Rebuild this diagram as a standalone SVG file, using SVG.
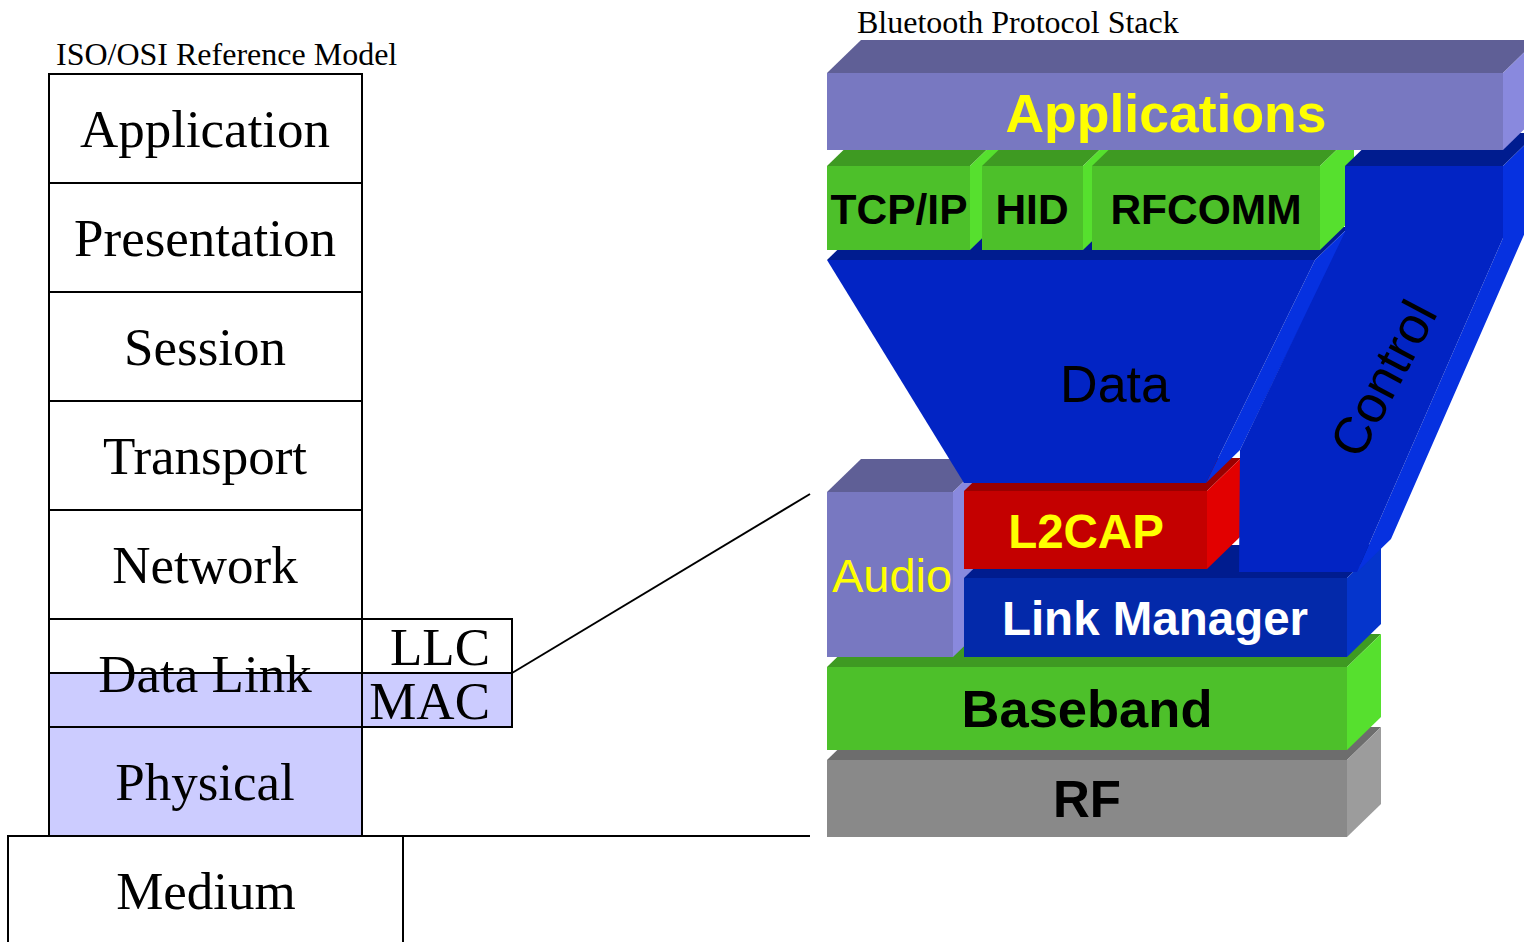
<svg xmlns="http://www.w3.org/2000/svg" width="1524" height="942" viewBox="0 0 1524 942">
<style>
.osi{fill:#fff;stroke:#000;stroke-width:2}
.mac{fill:#ccccff;stroke:#000;stroke-width:2}
.st{font-family:"Liberation Serif","Times New Roman",serif;fill:#000}
.big{font-size:53px;text-anchor:middle}
.ttl{font-size:32px}
.bt{font-family:"Liberation Sans",Arial,sans-serif;font-weight:bold;text-anchor:middle}
.bn{font-family:"Liberation Sans",Arial,sans-serif;text-anchor:middle}
.conn{stroke:#000;stroke-width:2;fill:none}
.lavF{fill:#7878c1}.lavT{fill:#5f5f96}.lavS{fill:#8989de}
.grF{fill:#4dc02a}.grT{fill:#3e9a22}.grS{fill:#56e02e}
.blF{fill:#0224c4}.blT{fill:#001c8f}.blS{fill:#0631e0}
.lmF{fill:#0329aa}.lmS{fill:#0535cc}
.rdF{fill:#c40000}.rdT{fill:#990000}.rdS{fill:#e20000}
.gyF{fill:#898989}.gyT{fill:#6d6d6d}.gyS{fill:#9c9c9c}
</style>

<g id="osi-title"><text class="st ttl" x="56" y="65">ISO/OSI Reference Model</text></g>
<g id="osi-application"><rect class="osi" x="49" y="74" width="313" height="109"/><text class="st big" x="205" y="147">Application</text></g>
<g id="osi-presentation"><rect class="osi" x="49" y="183" width="313" height="109"/><text class="st big" x="205" y="256">Presentation</text></g>
<g id="osi-session"><rect class="osi" x="49" y="292" width="313" height="109"/><text class="st big" x="205" y="365">Session</text></g>
<g id="osi-transport"><rect class="osi" x="49" y="401" width="313" height="109"/><text class="st big" x="205" y="474">Transport</text></g>
<g id="osi-network"><rect class="osi" x="49" y="510" width="313" height="109"/><text class="st big" x="205" y="583">Network</text></g>
<g id="osi-datalink"><rect class="osi" x="49" y="619" width="313" height="54"/><rect class="mac" x="49" y="673" width="313" height="54"/><text class="st big" x="205" y="692">Data Link</text></g>
<g id="osi-llc"><rect class="osi" x="362" y="619" width="150" height="54"/><text class="st big" x="490" y="665" style="text-anchor:end">LLC</text></g>
<g id="osi-mac"><rect class="mac" x="362" y="673" width="150" height="54"/><text class="st big" x="490" y="719" style="text-anchor:end">MAC</text></g>
<g id="osi-physical"><rect class="mac" x="49" y="727" width="313" height="109"/><text class="st big" x="205" y="800">Physical</text></g>
<g id="osi-medium"><rect class="osi" x="8" y="836" width="395" height="120"/><text class="st big" x="206" y="909">Medium</text></g>

<g id="connectors">
<line class="conn" x1="512" y1="673" x2="810" y2="494"/>
<line class="conn" x1="403" y1="836" x2="810" y2="836"/>
</g>

<g id="bt-title"><text class="st ttl" x="857" y="33">Bluetooth Protocol Stack</text></g>

<g id="bt-rf">
<polygon class="gyT" points="827,760 1347,760 1381,727 861,727"/>
<polygon class="gyS" points="1347,760 1381,727 1381,804 1347,837"/>
<rect class="gyF" x="827" y="760" width="520" height="77"/>
<text class="bt" x="1087" y="817" font-size="51">RF</text>
</g>
<g id="bt-baseband">
<polygon class="grT" points="827,667 1347,667 1381,634 861,634"/>
<polygon class="grS" points="1347,667 1381,634 1381,717 1347,750"/>
<rect class="grF" x="827" y="667" width="520" height="83"/>
<text class="bt" x="1087" y="727" font-size="52.5">Baseband</text>
</g>
<g id="bt-audio">
<polygon class="lavT" points="827,492 953,492 987,459 861,459"/>
<polygon class="lavS" points="953,492 987,459 987,624 953,657"/>
<rect class="lavF" x="827" y="492" width="126" height="165"/>
<text class="bn" x="892" y="592" font-size="47" fill="#ffff00">Audio</text>
</g>
<g id="bt-linkmanager">
<polygon class="blT" points="964,578 1347,578 1381,545 998,545"/>
<polygon class="lmS" points="1347,578 1381,545 1381,624 1347,657"/>
<rect class="lmF" x="964" y="578" width="383" height="79"/>
<text class="bt" x="1155" y="635" font-size="47.5" fill="#ffffff">Link Manager</text>
</g>
<g id="bt-l2cap">
<polygon class="rdT" points="964,491 1207,491 1241,458 998,458"/>
<polygon class="rdS" points="1207,491 1241,458 1241,536 1207,569"/>
<rect class="rdF" x="964" y="491" width="243" height="78"/>
<text class="bt" x="1086" y="548" font-size="47.5" fill="#ffff00">L2CAP</text>
</g>
<g id="bt-data">
<polygon class="blT" points="827,260 861,227 1349,227 1315,260"/>
<polygon class="blS" points="1315,260 1349,227 1240,450 1206,483"/>
<polygon class="blF" points="827,260 1315,260 1206,483 964,483"/>
<text class="bn" x="1115" y="402" font-size="52" fill="#000">Data</text>
</g>
<g id="bt-tcpip">
<polygon class="grT" points="827,166 970,166 1004,133 861,133"/>
<polygon class="grS" points="970,166 1004,133 1004,217 970,250"/>
<rect class="grF" x="827" y="166" width="143" height="84"/>
<text class="bt" x="899" y="224" font-size="42.5">TCP/IP</text>
</g>
<g id="bt-hid">
<polygon class="grT" points="982,166 1083,166 1117,133 1016,133"/>
<polygon class="grS" points="1083,166 1117,133 1117,217 1083,250"/>
<rect class="grF" x="982" y="166" width="101" height="84"/>
<text class="bt" x="1032" y="224" font-size="42.5">HID</text>
</g>
<g id="bt-rfcomm">
<polygon class="grT" points="1092,166 1320,166 1354,133 1126,133"/>
<polygon class="grS" points="1320,166 1354,133 1354,217 1320,250"/>
<rect class="grF" x="1092" y="166" width="228" height="84"/>
<text class="bt" x="1206" y="224" font-size="42.5">RFCOMM</text>
</g>
<g id="bt-control">
<polygon class="blT" points="1345,166 1379,133 1537,133 1503,166"/>
<polygon class="blS" points="1503,166 1537,133 1537,205 1391,539 1357,572 1503,238"/>
<polygon class="blF" points="1345,166 1503,166 1503,238 1357,572 1239,572 1240,450 1345,232"/>
<text class="bn" font-size="52" fill="#000" transform="translate(1399,387) rotate(-62)">Control</text>
</g>
<g id="bt-applications">
<polygon class="lavT" points="827,73 861,40 1537,40 1503,73"/>
<polygon class="lavS" points="1503,73 1537,40 1537,117 1503,150"/>
<rect class="lavF" x="827" y="73" width="676" height="77"/>
<text class="bt" x="1166" y="132" font-size="53.5" fill="#ffff00">Applications</text>
</g>
</svg>
